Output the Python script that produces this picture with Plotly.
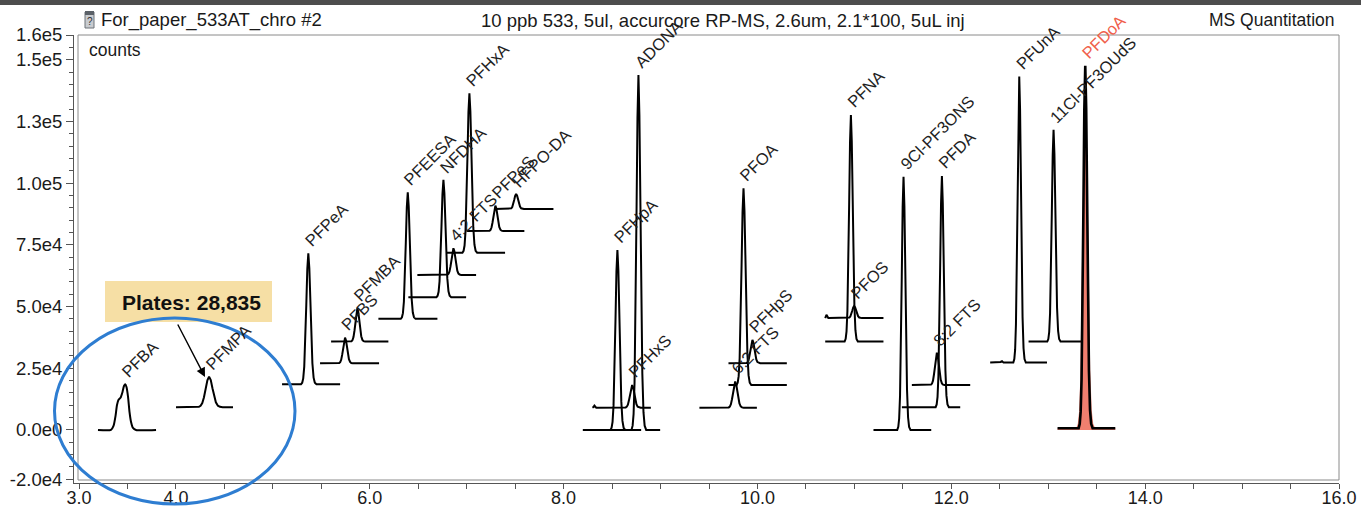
import plotly.graph_objects as go

# ---------------- data ----------------
COMPOUNDS = ["PFBA", "PFMPA", "PFPeA", "PFBS", "PFMBA", "PFEESA", "NFDHA", "4:2 FTS",
             "PFHxA", "PFPeS", "HFPO-DA", "PFHpA", "ADONA", "PFHxS", "6:2 FTS", "PFOA",
             "PFHpS", "PFNA", "PFOS", "9Cl-PF3ONS", "PFDA", "8:2 FTS", "PFUnA",
             "11Cl-PF3OUdS", "PFDoA"]
RT = [3.478, 4.342, 5.366, 5.745, 5.872, 6.392, 6.760, 6.863, 7.028, 7.296, 7.510,
      8.555, 8.772, 8.707, 9.770, 9.856, 9.948, 10.964, 10.998, 11.507, 11.903,
      11.851, 12.701, 13.055, 13.382]
APEX = [18500, 21600, 71600, 37400, 49300, 96300, 101300, 73600, 136400, 90900, 95600,
        72900, 143800, 18200, 19600, 97900, 36500, 127600, 50200, 102600, 102900,
        31300, 143200, 121600, 147500]
BASE = [0, 9200, 18500, 27000, 35800, 45000, 53800, 62800, 71800, 80600, 89500,
        0, 0, 9000, 9000, 18200, 27000, 35800, 45300, 0, 9200, 18200, 27300, 35800, 700]
START = [3.196, 4.001, 5.095, 5.487, 5.601, 6.089, 6.398, 6.491, 6.795, 7.001, 7.293,
         8.198, 8.400, 8.297, 9.401, 9.701, 9.701, 10.699, 10.699, 11.197, 11.490,
         11.593, 12.401, 12.797, 13.096]
END = [3.795, 4.589, 5.694, 6.096, 6.192, 6.698, 6.994, 7.097, 7.396, 7.595, 7.895,
       8.800, 8.996, 8.900, 9.994, 10.303, 10.303, 11.300, 11.300, 11.793, 12.092,
       12.195, 12.987, 13.348, 13.692]
WIDTH = [0.05, 0.035, 0.021, 0.02, 0.02, 0.02, 0.02, 0.02, 0.02, 0.02, 0.02,
         0.02, 0.02, 0.022, 0.022, 0.02, 0.02, 0.018, 0.02, 0.018, 0.018,
         0.02, 0.017, 0.018, 0.019]

# PFBA has a shoulder: its trace is read point by point
PFBA_T = [3.196, 3.330, 3.356, 3.377, 3.392, 3.408, 3.428, 3.449, 3.464, 3.478,
          3.490, 3.506, 3.521, 3.537, 3.557, 3.588, 3.795]
PFBA_I = [0, 0, 1600, 5700, 10100, 12200, 13000, 15400, 17800, 18500,
          17400, 13400, 7300, 3200, 800, 0, 0]

# small baseline features
BLIP_NAME = ["PFHxS", "PFOS", "PFUnA"]
BLIP_RT = [8.318, 10.712, 12.520]
BLIP_H = [900, 1300, 600]

# peak template (offset in peak widths, fraction of height) read from a typical peak
PROFILE_DX = [-3.6, -3.0, -2.5, -2.0, -1.5, -1.0, -0.5, 0.0, 0.5, 1.0, 1.5, 2.0, 2.6, 3.2, 4.0]
PROFILE_FR = [0.0, 0.012, 0.045, 0.135, 0.325, 0.605, 0.88, 1.0, 0.885, 0.62, 0.35,
              0.16, 0.05, 0.012, 0.0]

X_TICKS = [3.0 + 0.5 * i for i in range(27)]
X_LABELS = {3.0: "3.0", 4.0: "4.0", 6.0: "6.0", 8.0: "8.0", 10.0: "10.0",
            12.0: "12.0", 14.0: "14.0", 16.0: "16.0"}
Y_TICKS = [-20000, 0, 25000, 50000, 75000, 100000, 125000, 150000, 160000]
Y_LABELS = ["-2.0e4", "0.0e0", "2.5e4", "5.0e4", "7.5e4", "1.0e5", "1.3e5", "1.5e5", "1.6e5"]

# ---------------- layout geometry ----------------
W, H = 1361, 509
ML, MR, MT, MB = 74, 22, 35, 26
PW, PH = W - ML - MR, H - MT - MB


def px(xp):
    return (xp - ML) / PW


def py(yp):
    return (H - MB - yp) / PH


FONT = "Liberation Sans, Arial, sans-serif"

fig = go.Figure()


def peak_points(i, scale=1.0):
    xs, ys = [], []
    w = WIDTH[i] * scale
    h = APEX[i] - BASE[i]
    pts = [(START[i], BASE[i]), (END[i], BASE[i])]
    for dx, fr in zip(PROFILE_DX, PROFILE_FR):
        pts.append((RT[i] + dx * w, BASE[i] + fr * h))
    name = COMPOUNDS[i]
    for bn, br, bh in zip(BLIP_NAME, BLIP_RT, BLIP_H):
        if bn == name:
            for dx, fr in zip(PROFILE_DX, PROFILE_FR):
                xx = br + dx * 0.006
                if xx >= START[i]:
                    pts.append((xx, BASE[i] + fr * bh))
    pts = [p for p in pts if START[i] <= p[0] <= END[i]]
    pts.sort()
    for a, b in pts:
        xs.append(a)
        ys.append(b)
    return xs, ys


for i, name in enumerate(COMPOUNDS):
    if name == "PFBA":
        fig.add_trace(go.Scatter(x=PFBA_T, y=PFBA_I, mode="lines",
                                 line=dict(color="black", width=2, shape="spline", smoothing=0.6),
                                 showlegend=False, hoverinfo="skip"))
        continue
    if name == "PFDoA":
        fx, fy = peak_points(i, 1.35)
        fig.add_trace(go.Scatter(x=fx, y=fy, mode="lines", line=dict(color="rgba(0,0,0,0)", width=0),
                                 fill="tozeroy", fillcolor="rgba(236,95,75,0.8)",
                                 showlegend=False, hoverinfo="skip"))
    xs, ys = peak_points(i)
    lw = 2.6 if name == "PFDoA" else 2
    fig.add_trace(go.Scatter(x=xs, y=ys, mode="lines", line=dict(color="black", width=lw),
                             showlegend=False, hoverinfo="skip"))

# peak labels
for i, name in enumerate(COMPOUNDS):
    fig.add_annotation(x=RT[i], y=APEX[i], xref="x", yref="y", text=name, showarrow=False,
                       textangle=-45, xanchor="left", yanchor="bottom", xshift=-10, yshift=1,
                       font=dict(family=FONT, size=16.5,
                                 color="#F0604A" if name == "PFDoA" else "#1e1e1e"))

shapes = []
# top dark band
shapes.append(dict(type="rect", xref="paper", yref="paper", x0=px(0), x1=px(W), y0=py(5), y1=py(0),
                   fillcolor="#4d4d4d", line=dict(width=0), layer="above"))
# inner plot frame
shapes.append(dict(type="rect", xref="paper", yref="paper", x0=px(78), x1=px(1339), y0=py(480), y1=py(35),
                   line=dict(color="#8a8a8a", width=1), fillcolor="rgba(0,0,0,0)", layer="below"))
# plates box
shapes.append(dict(type="rect", xref="paper", yref="paper", x0=px(105), x1=px(272), y0=py(322), y1=py(281),
                   fillcolor="#F6DFA5", line=dict(width=0), layer="above"))
# blue ellipse
shapes.append(dict(type="circle", xref="paper", yref="paper", x0=px(54.5), x1=px(295), y0=py(504), y1=py(318),
                   line=dict(color="#2E7DD1", width=3), fillcolor="rgba(0,0,0,0)", layer="above"))
# icon
shapes.append(dict(type="rect", xref="paper", yref="paper", x0=px(85), x1=px(94), y0=py(28), y1=py(12),
                   fillcolor="#c9ccd0", line=dict(color="#6d7278", width=1), layer="above"))
shapes.append(dict(type="rect", xref="paper", yref="paper", x0=px(85), x1=px(94), y0=py(15), y1=py(11),
                   fillcolor="#5b6168", line=dict(width=0), layer="above"))

fig.update_layout(shapes=shapes)

fig.add_annotation(xref="paper", yref="paper", x=px(89.5), y=py(21), text="?", showarrow=False,
                   font=dict(family=FONT, size=10, color="#333"), xanchor="center", yanchor="middle")
fig.add_annotation(xref="paper", yref="paper", x=px(99), y=py(20), text="For_paper_533AT_chro #2",
                   showarrow=False, xanchor="left", yanchor="middle",
                   font=dict(family=FONT, size=18.5, color="#1a1a1a"))
fig.add_annotation(xref="paper", yref="paper", x=px(723), y=py(20),
                   text="10 ppb 533, 5ul, accurcore RP-MS, 2.6um, 2.1*100, 5uL inj",
                   showarrow=False, xanchor="center", yanchor="middle",
                   font=dict(family=FONT, size=18.5, color="#1a1a1a"))
fig.add_annotation(xref="paper", yref="paper", x=px(1336), y=py(20), text="MS Quantitation",
                   showarrow=False, xanchor="right", yanchor="middle",
                   font=dict(family=FONT, size=17.5, color="#1a1a1a"))
fig.add_annotation(xref="paper", yref="paper", x=px(87), y=py(50), text="counts",
                   showarrow=False, xanchor="left", yanchor="middle",
                   font=dict(family=FONT, size=17.5, color="#1a1a1a"))
fig.add_annotation(xref="paper", yref="paper", x=px(120), y=py(302), text="<b>Plates: 28,835</b>",
                   showarrow=False, xanchor="left", yanchor="middle",
                   font=dict(family=FONT, size=21, color="#111"))
fig.add_annotation(xref="paper", yref="paper", x=px(205), y=py(377), ax=177 - 205, ay=323 - 377,
                   axref="pixel", ayref="pixel", text="", showarrow=True, arrowhead=2,
                   arrowsize=1.3, arrowwidth=1.4, arrowcolor="black")

fig.update_layout(
    width=W, height=H,
    margin=dict(l=ML, r=MR, t=MT, b=MB, autoexpand=False),
    paper_bgcolor="white", plot_bgcolor="white",
    showlegend=False,
    xaxis=dict(range=[3 - 5 / 96.9, 16], showgrid=False, zeroline=False, showline=True,
               automargin=False, ticklabelstandoff=-7,
               linecolor="#555", linewidth=1, ticks="outside", ticklen=5, tickcolor="#555",
               tickvals=X_TICKS, ticktext=[X_LABELS.get(v, "") for v in X_TICKS],
               tickfont=dict(family=FONT, size=18, color="#1a1a1a"), fixedrange=True),
    yaxis=dict(range=[-21500, 160000], showgrid=False, zeroline=False, showline=True,
               automargin=False,
               linecolor="#555", linewidth=1, ticks="outside", ticklen=7, tickcolor="#555",
               tickvals=Y_TICKS, ticktext=Y_LABELS,
               tickfont=dict(family=FONT, size=18.5, color="#1a1a1a"),
               minor=dict(tickvals=list(range(-20000, 160001, 5000)), ticks="outside",
                          ticklen=4, tickcolor="#555"), fixedrange=True),
)

fig.write_html("out.html")
